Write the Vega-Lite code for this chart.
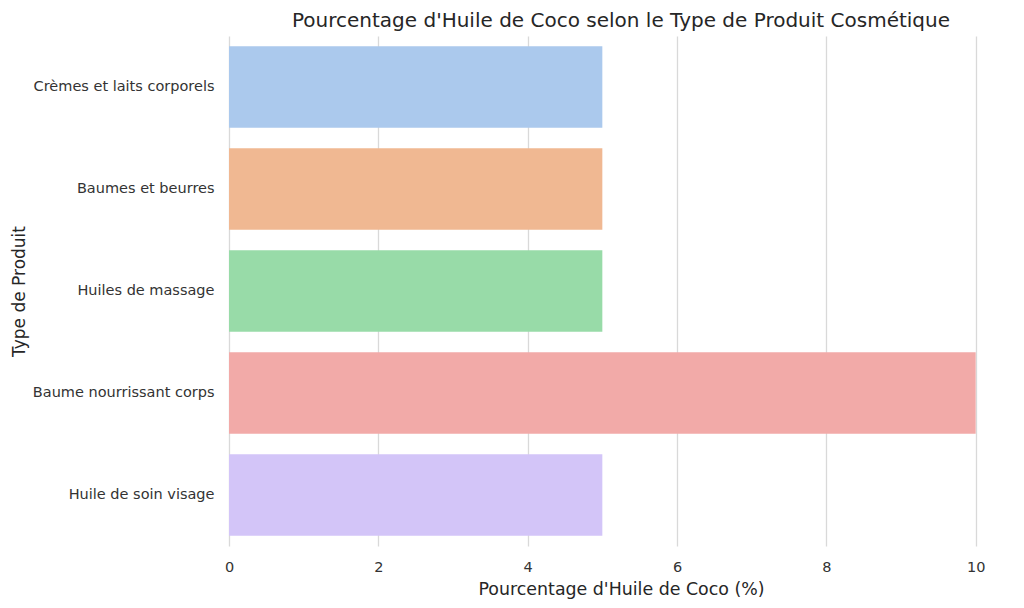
{
  "$schema": "https://vega.github.io/schema/vega-lite/v6.json",
  "width": 784,
  "height": 510,
  "autosize": {"type": "none"},
  "padding": {"left": 229, "top": 36, "right": 11, "bottom": 62},
  "background": "white",
  "title": {
    "text": "Pourcentage d'Huile de Coco selon le Type de Produit Cosmétique",
    "font": "DejaVu Sans",
    "fontSize": 20,
    "fontWeight": "normal",
    "color": "#262626",
    "anchor": "middle",
    "offset": 5
  },
  "data": {
    "values": [
      {"type": "Crèmes et laits corporels", "pct": 5},
      {"type": "Baumes et beurres", "pct": 5},
      {"type": "Huiles de massage", "pct": 5},
      {"type": "Baume nourrissant corps", "pct": 10},
      {"type": "Huile de soin visage", "pct": 5}
    ]
  },
  "mark": {"type": "bar"},
  "encoding": {
    "y": {
      "field": "type",
      "type": "nominal",
      "sort": null,
      "scale": {"paddingInner": 0.2, "paddingOuter": 0.1},
      "axis": {
        "title": "Type de Produit",
        "titleFont": "DejaVu Sans",
        "titleFontSize": 17,
        "titleFontWeight": "normal",
        "titleColor": "#262626",
        "titlePadding": 4,
        "labelFont": "DejaVu Sans",
        "labelFontSize": 14.5,
        "labelColor": "#333333",
        "labelPadding": 15,
        "labelLimit": 400,
        "ticks": false,
        "domain": false,
        "grid": false
      }
    },
    "x": {
      "field": "pct",
      "type": "quantitative",
      "scale": {"domain": [0, 10.5], "nice": false},
      "axis": {
        "title": "Pourcentage d'Huile de Coco (%)",
        "titleFont": "DejaVu Sans",
        "titleFontSize": 17.4,
        "titleFontWeight": "normal",
        "titleColor": "#262626",
        "titlePadding": 7,
        "labelFont": "DejaVu Sans",
        "labelFontSize": 14.5,
        "labelColor": "#333333",
        "labelPadding": 14,
        "labelFlush": false,
        "labelOverlap": false,
        "values": [0, 2, 4, 6, 8, 10],
        "ticks": false,
        "domain": false,
        "grid": true,
        "gridColor": "#d9d9d9",
        "gridWidth": 1.3
      }
    },
    "color": {
      "field": "type",
      "type": "nominal",
      "sort": null,
      "legend": null,
      "scale": {
        "domain": ["Crèmes et laits corporels", "Baumes et beurres", "Huiles de massage", "Baume nourrissant corps", "Huile de soin visage"],
        "range": ["#abc9ed", "#f0b892", "#98dba8", "#f2aaa8", "#d3c5f8"]
      }
    }
  },
  "config": {"view": {"stroke": null}}
}
